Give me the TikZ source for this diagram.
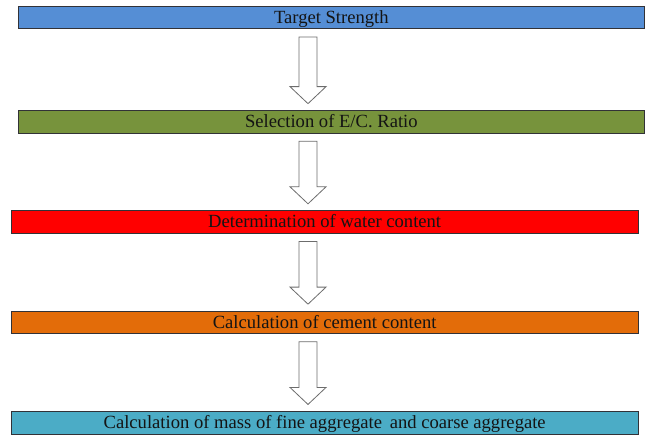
\documentclass[tikz,border=0pt]{standalone}
\usepackage{fontspec}
\setmainfont{Liberation Serif}
\usetikzlibrary{calc}
\definecolor{cblue}{RGB}{85,142,213}
\definecolor{cgreen}{RGB}{119,147,60}
\definecolor{cred}{RGB}{255,0,0}
\definecolor{corange}{RGB}{227,108,9}
\definecolor{cteal}{RGB}{75,172,198}
\definecolor{cedge}{RGB}{50,50,55}
\tikzset{
  stepbox/.style={draw=cedge, line width=1pt, rectangle, inner sep=0pt,
    minimum height=22.7pt, text height=14.5pt, text depth=3pt,
    font=\fontsize{18.6}{18.6}\selectfont, text=black!92},
  bigarrow/.style={draw=gray!85!black, fill=white, line width=0.8pt, line join=miter}
}
\begin{document}
\begin{tikzpicture}[x=1pt,y=1pt]
\useasboundingbox (0,0) rectangle (645,435);
\node[stepbox, fill=cblue, minimum width=625.3pt] (b1) at (331.35,417.35) {Target Strength};
\node[stepbox, fill=cgreen, minimum width=625.3pt] (b2) at (331.35,313) {Selection of E/C. Ratio};
\node[stepbox, fill=cred, minimum width=626.7pt] (b3) at (324.65,212.85) {Determination of water content};
\node[stepbox, fill=corange, minimum width=626.7pt] (b4) at (324.65,112.5) {Calculation of cement content};
\node[stepbox, fill=cteal, minimum width=626.7pt] (b5) at (324.65,12.2) {Calculation of mass of fine aggregate\, and coarse aggregate};
\foreach \a/\b in {b1/b2,b2/b3,b3/b4,b4/b5}{
  \draw[bigarrow] let \p1=(\a.south), \p2=(\b.north) in
    (299,\y1-7.5) -- (317,\y1-7.5) -- (317,\y2+23.5) -- (326,\y2+23.5)
    -- (308,\y2+6.5) -- (290,\y2+23.5) -- (299,\y2+23.5) -- cycle;
}
\end{tikzpicture}
\end{document}
